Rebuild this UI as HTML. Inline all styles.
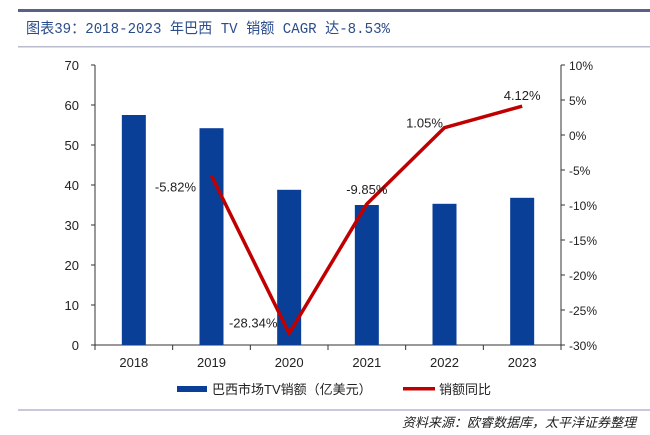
<!DOCTYPE html>
<html><head><meta charset="utf-8"><style>
body{margin:0;background:#fff;width:650px;height:430px;overflow:hidden;font-family:"Liberation Sans","Noto Sans CJK SC",sans-serif}
</style></head><body>
<svg width="650" height="430" xmlns="http://www.w3.org/2000/svg">
<rect x="18" y="9" width="632" height="3" fill="#5b6088"/>
<text x="26" y="33" font-size="15" fill="#2b4d8c" textLength="364" lengthAdjust="spacingAndGlyphs" font-family="'Liberation Mono','Noto Sans CJK SC',monospace">图表39：2018-2023 年巴西 TV 销额 CAGR 达-8.53%</text>
<rect x="18" y="46" width="632" height="1.5" fill="#b8bccc"/>
<g id="plot"></g>
<rect x="18" y="409" width="632" height="2" fill="#c8c8dc"/>
<text x="636" y="427" font-size="13" font-style="italic" text-anchor="end" fill="#222">资料来源：欧睿数据库，太平洋证券整理</text>
<g>
<rect x="177" y="386" width="30" height="6" fill="#0a3f98"/>
<text x="212" y="394" font-size="13" fill="#222">巴西市场TV销额（亿美元）</text>
<rect x="403" y="387" width="32" height="3.5" fill="#c00000"/>
<text x="439" y="394" font-size="13" fill="#222">销额同比</text>
</g>
</svg>
<script>
const categories=["2018","2019","2020","2021","2022","2023"];
const sales=[57.5,54.2,38.8,35.0,35.3,36.8];
const yoy=[null,-5.82,-28.34,-9.85,1.05,4.12];
const yoyLabels=["","-5.82%","-28.34%","-9.85%","1.05%","4.12%"];
const leftTicks=[0,10,20,30,40,50,60,70];
const rightTicks=[10,5,0,-5,-10,-15,-20,-25,-30];
const NS="http://www.w3.org/2000/svg";
const g=document.getElementById('plot');
const L=95,R=561,T=65,B=345;
const step=(R-L)/categories.length;
const xc=i=>L+step*(i+0.5);
const yl=v=>B-(v/70)*(B-T);
const yr=v=>B-((v+30)/40)*(B-T);
function mk(tag,at,txt){const e=document.createElementNS(NS,tag);for(const k in at)e.setAttribute(k,at[k]);if(txt!==undefined)e.textContent=txt;g.appendChild(e);return e;}
let e;
e=mk('line',{x1:L,y1:T,x2:L,y2:B,stroke:'#333','stroke-width':1});


e=mk('line',{x1:R,y1:T,x2:R,y2:B,stroke:'#333','stroke-width':1});


e=mk('line',{x1:L,y1:B,x2:R,y2:B,stroke:'#333','stroke-width':1});


leftTicks.forEach(v=>{
 mk('line',{x1:L-4,y1:yl(v),x2:L,y2:yl(v),stroke:'#333'});
 e=mk('text',{x:L-16,y:yl(v)+5,'font-size':13,'text-anchor':'end',fill:'#222'},String(v));
 
 
});
rightTicks.forEach(v=>{
 mk('line',{x1:R,y1:yr(v),x2:R+4,y2:yr(v),stroke:'#333'});
 e=mk('text',{x:R+8,y:yr(v)+5,'font-size':12,fill:'#222'},v+'%');
 
 
});
for(let i=0;i<=categories.length;i++){mk('line',{x1:L+step*i,y1:B,x2:L+step*i,y2:B+5,stroke:'#333'});}
categories.forEach((c,i)=>{
 e=mk('rect',{x:xc(i)-12,y:yl(sales[i]),width:24,height:B-yl(sales[i]),fill:'#0a3f98'});
 
 
 e=mk('text',{x:xc(i),y:B+22,'font-size':13,'text-anchor':'middle',fill:'#222'},c);
 
 
});
const pts=[];yoy.forEach((v,i)=>{if(v!==null)pts.push(xc(i)+','+yr(v));});
e=mk('polyline',{points:pts.join(' '),fill:'none',stroke:'#c00000','stroke-width':3.5,'stroke-linejoin':'round'});


const off=[null,[-36,16],[-36,-6],[0,-10],[-20,0],[0,-6]];
yoy.forEach((v,i)=>{if(v===null)return;
 e=mk('text',{x:xc(i)+off[i][0],y:yr(v)+off[i][1],'font-size':13,'text-anchor':'middle',fill:'#222'},yoyLabels[i]);
 
 
});
</script>
</body></html>
